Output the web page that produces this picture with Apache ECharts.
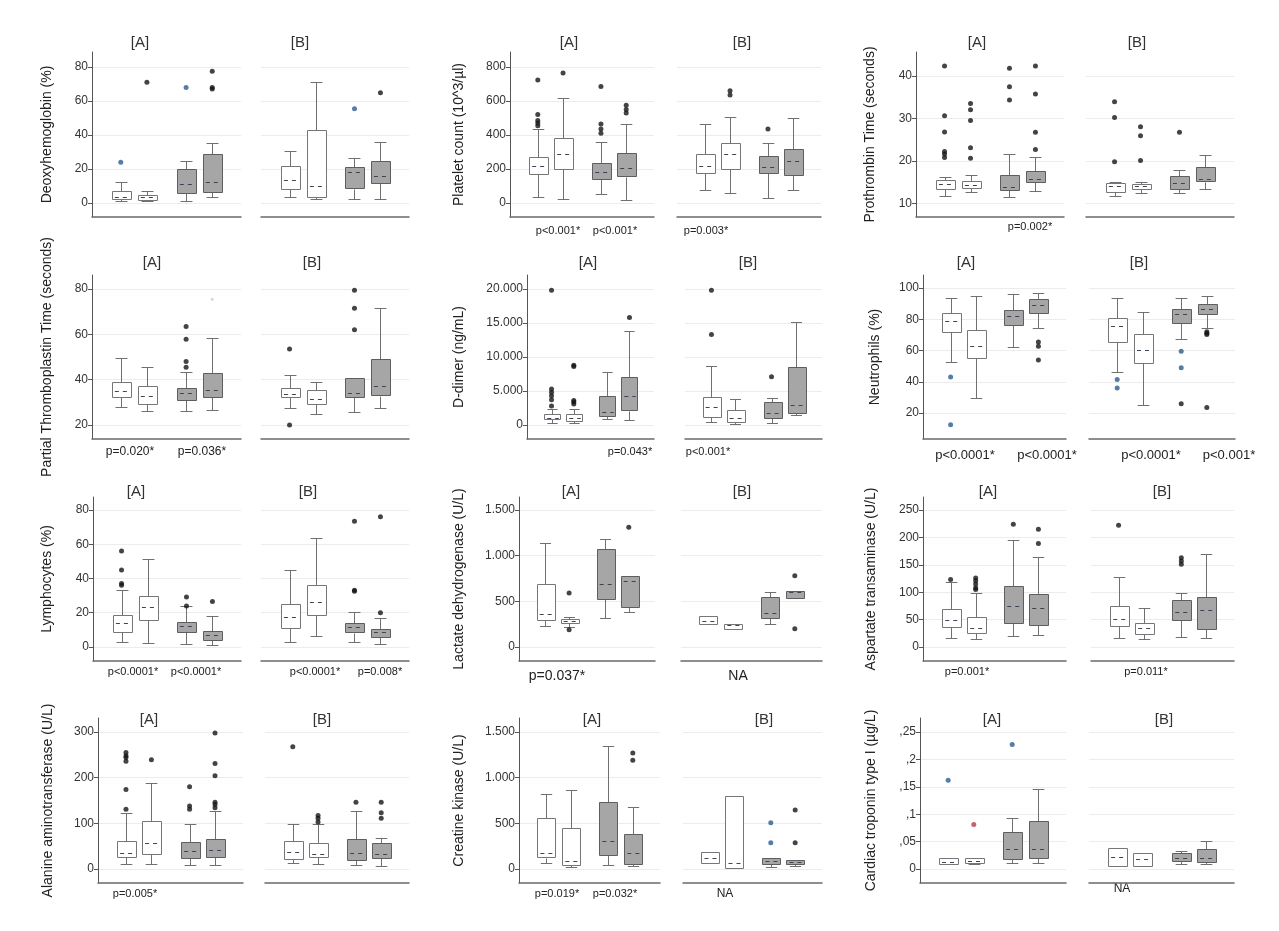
<!DOCTYPE html>
<html>
<head>
<meta charset="utf-8">
<title>Laboratory findings</title>
<script src="https://cdn.jsdelivr.net/npm/echarts@6.0.0/dist/echarts.min.js"></script>
<style>
  html, body { margin: 0; padding: 0; background: #fff; }
  #main { width: 1279px; height: 931px; }
</style>
</head>
<body>
<div id="main"></div>
<script>
// each box: [lower whisker, Q1, median, Q3, upper whisker]; rows A1..A4 then B1..B4
var deoxyBoxes = [
  [1.5, 2.5, 3.5, 7, 12.5], [1, 1.8, 3.3, 4.7, 7.2], [1.2, 5.7, 11, 19.8, 25], [3.7, 6.3, 12.5, 28.8, 35.5],
  [3.7, 8.6, 13.5, 22, 30.8], [2.5, 3.5, 10, 43, 71], [2.3, 8.4, 18, 21, 26.5], [2.3, 12, 15.9, 25, 36]
];
var deoxyOutliers = [[], [71], [], [77.5, 68, 67], [], [], [], [64.8]];
var deoxyMarked = [[[24, 'blue']], [], [[68, 'blue']], [], [], [], [[55.5, 'blue']], []];

var plateletBoxes = [
  [37, 170, 219, 272, 433], [23, 198, 288, 380, 616], [53, 141, 184, 233, 361], [20, 155, 204, 292, 465],
  [76, 175, 218, 286, 465], [57, 204, 286, 355, 504], [31, 180, 214, 278, 355], [76, 167, 249, 318, 498]
];
var plateletOutliers = [[723, 520, 485, 470, 455], [765], [685, 465, 435, 410], [575, 550, 530], [], [660, 635], [435], []];

var prothrombinBoxes = [
  [11.8, 13.3, 14.5, 15.5, 16.3], [12.6, 13.6, 14.3, 15.3, 16.7], [11.6, 13.2, 13.8, 16.7, 21.6], [13, 15, 15.7, 17.6, 21],
  [11.8, 12.9, 14.1, 14.9, 15.1], [12.5, 13.3, 14, 14.5, 15.1], [12.5, 13.5, 14.8, 16.5, 17.9], [13.4, 15.1, 15.7, 18.5, 21.4]
];
var prothrombinOutliers = [
  [42.3, 30.6, 26.8, 22.2, 21.6, 20.8], [33.5, 32, 29.5, 23.1, 20.6], [41.8, 37.4, 34.3], [42.3, 35.7, 26.7, 22.7],
  [33.9, 30.2, 19.8], [28, 25.9, 20.1], [26.7], []
];

var pttBoxes = [
  [28.1, 32.2, 34.9, 39, 49.6], [26.3, 29.5, 32.7, 37.3, 45.4], [26.3, 31.3, 34.2, 36.4, 43.2], [26.5, 32.5, 35.5, 43, 58.5],
  [27.3, 32.2, 33.5, 36.1, 42], [24.7, 29.1, 31.4, 35.4, 39], [25.9, 32.5, 34.2, 40.8, 40.8], [27.6, 32.9, 37.1, 49, 71.6]
];
var pttOutliers = [[], [], [63.5, 57.8, 48, 45.5], [], [53.5, 20], [], [79.5, 71.5, 62], []];
var pttMarked = [[], [], [], [[75.5, 'faint']], [], [], [], []];

var ddimerBoxes = [
  [340, 830, 1080, 1570, 2300], [340, 590, 980, 1570, 2300], [880, 1370, 1960, 4310, 7840], [800, 2100, 4200, 7000, 13800],
  [390, 1220, 2600, 4170, 8720], [150, 390, 980, 2200, 3770], [250, 1130, 1720, 3430, 3920], [1470, 1720, 2940, 8480, 15100]
];
var ddimerOutliers = [
  [19800, 5300, 4800, 4300, 3700, 2800], [8800, 8600, 3600, 3400, 3100], [], [15800],
  [19800, 13300], [], [7100], []
];

var neutroBoxes = [
  [52.8, 72, 78.8, 84.3, 93.7], [29.4, 55.3, 63, 73, 94.8], [62.4, 76.2, 82.2, 85.8, 96], [74.5, 83.7, 89, 92.7, 96.9],
  [46, 65.6, 75.8, 80.9, 93.9], [25.1, 51.8, 60.3, 70.3, 84.7], [67.1, 77.3, 83.3, 86.3, 93.3], [74.1, 83.3, 86.5, 89.6, 94.8]
];
var neutroOutliers = [[], [], [], [65.5, 62.8, 54], [], [], [26], [72, 71, 70.3, 23.5]];
var neutroMarked = [[[43, 'blue'], [12.5, 'blue']], [], [], [], [[41.5, 'blue'], [36, 'blue']], [], [[59.5, 'blue'], [49, 'blue']], []];

var lymphBoxes = [
  [3.1, 9, 14.2, 18.7, 33], [2.5, 15.8, 23.6, 30, 51.5], [1.6, 8.6, 12.3, 14.4, 24.2], [1.2, 4.1, 7, 9.4, 18.3],
  [2.7, 10.9, 17.7, 25.1, 45], [6.6, 18.7, 26.3, 36.3, 63.9], [3.1, 8.4, 11.5, 13.8, 20.7], [1.6, 6, 8.6, 10.5, 17.2]
];
var lymphOutliers = [[56, 45, 37, 36], [], [29.2, 24], [26.5], [], [], [73.5, 33.2, 32.5], [76, 20]];

var ldhBoxes = [
  [230, 296, 358, 690, 1136], [220, 265, 285, 305, 330], [320, 526, 687, 1073, 1183], [380, 440, 726, 778, 778],
  [248, 248, 285, 340, 340], [197, 197, 241, 248, 248], [249, 321, 369, 551, 606], [540, 540, 606, 617, 617]
];
var ldhOutliers = [[], [590, 190], [], [1310], [], [], [], [780, 200]];

var astBoxes = [
  [17, 36, 49, 69, 119], [14.6, 25, 35, 55, 98], [20.6, 44, 75, 111, 195], [22, 40, 72, 96, 165],
  [16, 38, 50.5, 75, 127], [14.6, 24, 34, 44, 72], [19, 49, 63, 86, 99], [16, 34, 67.5, 92, 169]
];
var astOutliers = [[123], [126, 121, 115, 108, 105], [224], [215, 189], [222], [], [163, 157, 151], []];

var altBoxes = [
  [10, 26, 34, 62, 122], [10, 32, 58, 105, 189], [9, 26, 39, 60, 98], [9, 26, 42, 66, 127],
  [12.5, 21, 38, 61, 98.5], [10, 26, 32, 56, 98], [9, 20, 34, 65, 128], [6.5, 23, 32, 56, 68.5]
];
var altOutliers = [
  [255, 248, 244, 236, 174, 131], [239], [180, 138, 131], [298, 231, 204, 146, 141, 134],
  [268], [117, 111, 103], [146], [146, 123, 111]
];

var ckBoxes = [
  [62, 124, 172, 555, 821], [25, 44, 88, 446, 865], [44, 153, 307, 730, 1347], [36, 51, 179, 383, 676],
  [62, 62, 117, 183, 183], [19, 19, 62, 803, 803], [25, 51, 88, 117, 117], [36, 51, 73, 99, 99]
];
var ckOutliers = [[], [], [], [1270, 1190], [], [], [], [646, 288]];
var ckMarked = [[], [], [], [], [], [], [[507, 'blue'], [288, 'blue']], []];

var tropBoxes = [
  [0.0085, 0.0104, 0.0134, 0.0206, 0.0206], [0.0085, 0.0116, 0.0146, 0.0206, 0.0206], [0.0104, 0.0195, 0.0365, 0.068, 0.0937], [0.0104, 0.0195, 0.036, 0.0876, 0.146],
  [0.0055, 0.0055, 0.0225, 0.039, 0.039], [0.0055, 0.0055, 0.0177, 0.0286, 0.0286], [0.0091, 0.0146, 0.0206, 0.0286, 0.0334], [0.0091, 0.0122, 0.0206, 0.0365, 0.051]
];
var tropOutliers = [[], [], [], [], [], [], [], []];
var tropMarked = [[[0.162, 'blue']], [[0.081, 'red']], [[0.227, 'blue']], [], [], [], [], []];

// tick values and their printed labels
var pctTicks = [0, 20, 40, 60, 80];
var plateletTicks = [0, 200, 400, 600, 800];
var prothrombinTicks = [10, 20, 30, 40];
var pttTicks = [20, 40, 60, 80];
var ddimerTicks = [0, 5000, 10000, 15000, 20000];
var ddimerTickLabels = ['0', '5.000', '10.000', '15.000', '20.000'];
var neutroTicks = [20, 40, 60, 80, 100];
var enzymeTicks = [0, 500, 1000, 1500];
var enzymeTickLabels = ['0', '500', '1.000', '1.500'];
var astTicks = [0, 50, 100, 150, 200, 250];
var altTicks = [0, 100, 200, 300];
var tropTicks = [0, 0.05, 0.1, 0.15, 0.2, 0.25];
var tropTickLabels = ['0', ',05', ',1', ',15', ',2', ',25'];

// x slot of the four boxes inside a sub-plot
var boxSlots = [0, 1, 2.5, 3.5];

var TONES = { blue: '#2d5d8e', red: '#b8394f', faint: '#d8c8cc' };
var FONT = '"Liberation Sans", Arial, sans-serif';

var panels = [
  { boxes: deoxyBoxes, out: deoxyOutliers, marked: deoxyMarked, name: 'Deoxyhemoglobin (%)', ticks: pctTicks,
    yMin: -8.2, yMax: 88.8, top: 52, bottom: 217, a: [92, 241], b: [261, 409], gap: 38, titleY: 43, tA: 140, tB: 300 },
  { boxes: plateletBoxes, out: plateletOutliers, name: 'Platelet count (10^3/µl)', ticks: plateletTicks,
    yMin: -82, yMax: 888, top: 52, bottom: 217, a: [510, 654], b: [677, 821], gap: 44, titleY: 43, tA: 569, tB: 742 },
  { boxes: prothrombinBoxes, out: prothrombinOutliers, name: 'Prothrombin Time (seconds)', ticks: prothrombinTicks,
    yMin: 6.8, yMax: 45.6, top: 52, bottom: 217, a: [916, 1064], b: [1086, 1234], gap: 39, titleY: 43, tA: 977, tB: 1137 },

  { boxes: pttBoxes, out: pttOutliers, marked: pttMarked, name: 'Partial Thromboplastin Time (seconds)', ticks: pttTicks,
    yMin: 13.8, yMax: 86.2, top: 275, bottom: 439, a: [92, 241], b: [261, 409], gap: 38, titleY: 263, tA: 152, tB: 312 },
  { boxes: ddimerBoxes, out: ddimerOutliers, name: 'D-dimer (ng/mL)', ticks: ddimerTicks, labels: ddimerTickLabels,
    yMin: -2059, yMax: 22059, top: 275, bottom: 439, a: [527, 654], b: [685, 822], gap: 61, titleY: 263, tA: 588, tB: 748 },
  { boxes: neutroBoxes, out: neutroOutliers, marked: neutroMarked, name: 'Neutrophils (%)', ticks: neutroTicks,
    yMin: 3.4, yMax: 108.3, top: 275, bottom: 439, a: [923, 1066], b: [1089, 1235], gap: 41, titleY: 263, tA: 966, tB: 1139 },

  { boxes: lymphBoxes, out: lymphOutliers, name: 'Lymphocytes (%)', ticks: pctTicks,
    yMin: -8.2, yMax: 87.6, top: 497, bottom: 661, a: [93, 241], b: [261, 409], gap: 39, titleY: 492, tA: 136, tB: 308 },
  { boxes: ldhBoxes, out: ldhOutliers, name: 'Lactate dehydrogenase (U/L)', ticks: enzymeTicks, labels: enzymeTickLabels,
    yMin: -153, yMax: 1642, top: 497, bottom: 661, a: [519, 655], b: [681, 822], gap: 53, titleY: 492, tA: 571, tB: 742 },
  { boxes: astBoxes, out: astOutliers, name: 'Aspartate transaminase (U/L)', ticks: astTicks,
    yMin: -25.5, yMax: 273.7, top: 497, bottom: 661, a: [923, 1066], b: [1091, 1234], gap: 45, titleY: 492, tA: 988, tB: 1162 },

  { boxes: altBoxes, out: altOutliers, name: 'Alanine aminotransferase (U/L)', ticks: altTicks,
    yMin: -30.7, yMax: 330.7, top: 718, bottom: 883, a: [98, 243], b: [265, 409], gap: 43, titleY: 720, tA: 149, tB: 322 },
  { boxes: ckBoxes, out: ckOutliers, marked: ckMarked, name: 'Creatine kinase (U/L)', ticks: enzymeTicks, labels: enzymeTickLabels,
    yMin: -153, yMax: 1653, top: 718, bottom: 883, a: [519, 660], b: [683, 822], gap: 53, titleY: 720, tA: 592, tB: 764 },
  { boxes: tropBoxes, out: tropOutliers, marked: tropMarked, name: 'Cardiac troponin type I (µg/L)', ticks: tropTicks, labels: tropTickLabels,
    yMin: -0.0255, yMax: 0.2755, top: 718, bottom: 883, a: [920, 1066], b: [1089, 1234], gap: 42, titleY: 720, tA: 992, tB: 1164 }
];

// p-value notes under the sub-plots: [text, x, y, font size]
var notes = [
  ['p<0.001*', 558, 231, 11], ['p<0.001*', 615, 231, 11], ['p=0.003*', 706, 231, 11], ['p=0.002*', 1030, 227, 11],
  ['p=0.020*', 130, 452, 12], ['p=0.036*', 202, 452, 12], ['p=0.043*', 630, 452, 11], ['p<0.001*', 708, 452, 11],
  ['p<0.0001*', 965, 455, 13], ['p<0.0001*', 1047, 455, 13], ['p<0.0001*', 1151, 455, 13], ['p<0.001*', 1229, 455, 13],
  ['p<0.0001*', 133, 672, 11], ['p<0.0001*', 196, 672, 11], ['p<0.0001*', 315, 672, 11], ['p=0.008*', 380, 672, 11],
  ['p=0.037*', 557, 676, 14], ['NA', 738, 676, 14], ['p=0.001*', 967, 672, 11], ['p=0.011*', 1146, 672, 11],
  ['p=0.005*', 135, 894, 11], ['p=0.019*', 557, 894, 11], ['p=0.032*', 615, 894, 11], ['NA', 725, 894, 12],
  ['NA', 1122, 889, 12]
];

var BOX_W = 0.74;

function renderBox(params, api) {
  var x = api.value(0);
  var pt = function (d) { return api.coord([x, api.value(d)]); };
  var lo = pt(1), q1 = pt(2), md = pt(3), q3 = pt(4), hi = pt(5);
  var w = api.size([BOX_W, 0])[0];
  var cap = w * 0.62;
  var cx = Math.round(lo[0]) + 0.5;
  var r = function (v) { return Math.round(v) + 0.5; };
  var gray = params.dataIndex >= 2;
  var kids = [];
  function line(x1, y1, x2, y2, extra) {
    var style = { stroke: '#707070', lineWidth: 1 };
    if (extra) { for (var k in extra) style[k] = extra[k]; }
    return { type: 'line', shape: { x1: x1, y1: y1, x2: x2, y2: y2 }, style: style };
  }
  if (q3[1] - hi[1] > 0.8) {
    kids.push(line(cx, r(q3[1]), cx, r(hi[1])));
    kids.push(line(cx - cap / 2, r(hi[1]), cx + cap / 2, r(hi[1])));
  }
  if (lo[1] - q1[1] > 0.8) {
    kids.push(line(cx, r(q1[1]), cx, r(lo[1])));
    kids.push(line(cx - cap / 2, r(lo[1]), cx + cap / 2, r(lo[1])));
  }
  kids.push({
    type: 'rect',
    shape: { x: Math.round(cx - w / 2) + 0.5, y: r(q3[1]), width: Math.round(w), height: Math.max(1, Math.round(q1[1] - q3[1])) },
    style: { fill: gray ? '#a6a6a6' : '#ffffff', stroke: gray ? '#5e5e5e' : '#767676', lineWidth: 1 }
  });
  kids.push(line(cx - w / 2 + 3, r(md[1]), cx + w / 2 - 2, r(md[1]), { stroke: '#3b4452', lineDash: [4, 4] }));
  return { type: 'group', children: kids };
}

var grids = [], xAxes = [], yAxes = [], series = [], graphics = [];

panels.forEach(function (p) {
  ['A', 'B'].forEach(function (side, s) {
    var gi = grids.length;
    var span = s === 0 ? p.a : p.b;
    var isA = s === 0;
    grids.push({ left: span[0], top: p.top, width: span[1] - span[0], height: p.bottom - p.top, outerBoundsMode: 'none' });
    xAxes.push({
      gridIndex: gi, type: 'value', min: -1.1, max: 4.6,
      axisLine: { show: true, onZero: false, lineStyle: { color: '#6a6a6a', width: 1.5 } },
      axisTick: { show: false }, axisLabel: { show: false }, splitLine: { show: false }
    });
    var labels = p.labels;
    var ticks = p.ticks;
    yAxes.push({
      gridIndex: gi, type: 'value', min: p.yMin, max: p.yMax,
      name: isA ? p.name : '', nameLocation: 'middle', nameGap: p.gap,
      nameTextStyle: { fontSize: 14, color: '#222', fontFamily: FONT },
      axisLine: { show: isA, onZero: false, lineStyle: { color: '#555', width: 1 } },
      axisTick: { show: isA, length: 4, customValues: ticks, lineStyle: { color: '#555' } },
      axisLabel: {
        show: isA, customValues: ticks, margin: 4, fontSize: 12, color: '#333', fontFamily: FONT,
        formatter: function (v) {
          if (!labels) return String(v);
          var best = 0;
          for (var i = 1; i < ticks.length; i++) {
            if (Math.abs(ticks[i] - v) < Math.abs(ticks[best] - v)) best = i;
          }
          return labels[best];
        }
      },
      splitLine: { show: true, lineStyle: { color: '#ececec', width: 1 } }
    });

    var rows = p.boxes.slice(s * 4, s * 4 + 4);
    series.push({
      type: 'custom', xAxisIndex: gi, yAxisIndex: gi, silent: true, z: 2,
      renderItem: renderBox,
      encode: { x: 0, y: [1, 2, 3, 4, 5] },
      data: rows.map(function (b, i) { return [boxSlots[i]].concat(b); })
    });

    var dots = [];
    for (var i = 0; i < 4; i++) {
      p.out[s * 4 + i].forEach(function (v) { dots.push([boxSlots[i], v]); });
      if (p.marked) {
        p.marked[s * 4 + i].forEach(function (m) {
          dots.push({
            value: [boxSlots[i], m[0]],
            symbolSize: m[1] === 'faint' ? 3 : 5,
            itemStyle: { color: TONES[m[1]] }
          });
        });
      }
    }
    series.push({
      type: 'scatter', xAxisIndex: gi, yAxisIndex: gi, silent: true, z: 3,
      symbolSize: 5, itemStyle: { color: '#151515' }, data: dots
    });

    graphics.push({
      type: 'text', x: isA ? p.tA : p.tB, y: p.titleY,
      style: { text: '[' + side + ']', fill: '#333', font: '15px ' + FONT, align: 'center', verticalAlign: 'middle', textAlign: 'center', textVerticalAlign: 'middle' }
    });
  });
});

notes.forEach(function (n) {
  graphics.push({
    type: 'text', x: n[1], y: n[2],
    style: { text: n[0], fill: '#222', font: n[3] + 'px ' + FONT, align: 'center', verticalAlign: 'middle', textAlign: 'center', textVerticalAlign: 'middle' }
  });
});

var myChart = echarts.init(document.getElementById('main'), null, { renderer: 'canvas' });
myChart.setOption({
  backgroundColor: '#ffffff',
  animation: false,
  grid: grids,
  xAxis: xAxes,
  yAxis: yAxes,
  series: series,
  graphic: { elements: graphics }
});

window.addEventListener('resize', function () { myChart.resize(); });
</script>
</body>
</html>
